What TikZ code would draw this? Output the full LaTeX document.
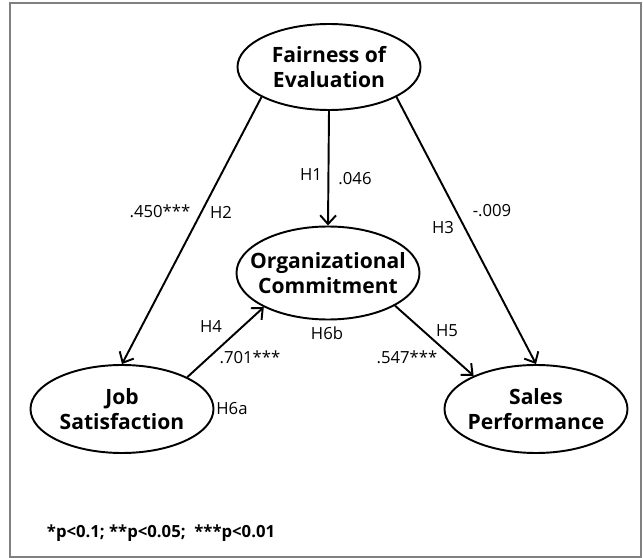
\documentclass[tikz,border=0pt]{standalone}
\usepackage{fontspec}
\setmainfont{Open Sans}
\usetikzlibrary{shapes.geometric,arrows.meta}
\tikzset{
  construct/.style={ellipse,draw,line width=1.1pt,inner ysep=0pt,inner xsep=-0.45cm,align=center,
    minimum width=3.66cm,minimum height=1.76cm,
    font=\fontsize{12}{13.8}\selectfont\bfseries},
  path/.style={line width=1.1pt,-{Straight Barb[length=5pt,width=9pt]}},
  coef/.style={inner sep=0pt,font=\fontsize{9.5}{11}\selectfont}
}
\begin{document}
\begin{tikzpicture}
\useasboundingbox (0,0) rectangle (12.86,11.16);
\draw [gray,line width=0.8pt] (0.2,0.02) rectangle (12.82,11.1);
% constructs
\node [construct,minimum height=1.72cm] (fair) at (6.58,9.82) {Fairness of\\Evaluation};
\node [construct,minimum height=1.86cm] (org) at (6.56,5.70) {Organizational\\Commitment};
\node [construct] (job) at (2.44,2.98) {Job\\Satisfaction};
\node [construct] (sales) at (10.72,2.98) {Sales\\Performance};
% paths
\draw [path] (fair.south) -- (org.north);
\draw [path] (fair.204) -- (job.north);
\draw [path] (fair.336) -- (sales.north);
\draw [path] (job.26) -- (org.208);
\draw [path] (org.334) -- (sales.152);
% hypotheses and coefficients
\node [coef] (h1) at (6.22,7.66) {H1};
\node [coef] (b1) at (7.10,7.58) {.046};
\node [coef] (b2) at (3.20,6.94) {.450***};
\node [coef] (h2) at (4.42,6.92) {H2};
\node [coef] (h3) at (8.86,6.60) {H3};
\node [coef] (b3) at (9.84,6.94) {-.009};
\node [coef] (h4) at (4.22,4.62) {H4};
\node [coef] (b4) at (5.00,4.02) {.701***};
\node [coef] (h6b) at (6.54,4.50) {H6b};
\node [coef] (h5) at (8.94,4.54) {H5};
\node [coef] (b5) at (8.14,4.02) {.547***};
\node [coef] (h6a) at (4.64,2.98) {H6a};
\node [coef,font=\fontsize{9.5}{11}\selectfont\bfseries] (note) at (3.22,0.50) {*p<0.1; **p<0.05;\ \ ***p<0.01};
\end{tikzpicture}
\end{document}
